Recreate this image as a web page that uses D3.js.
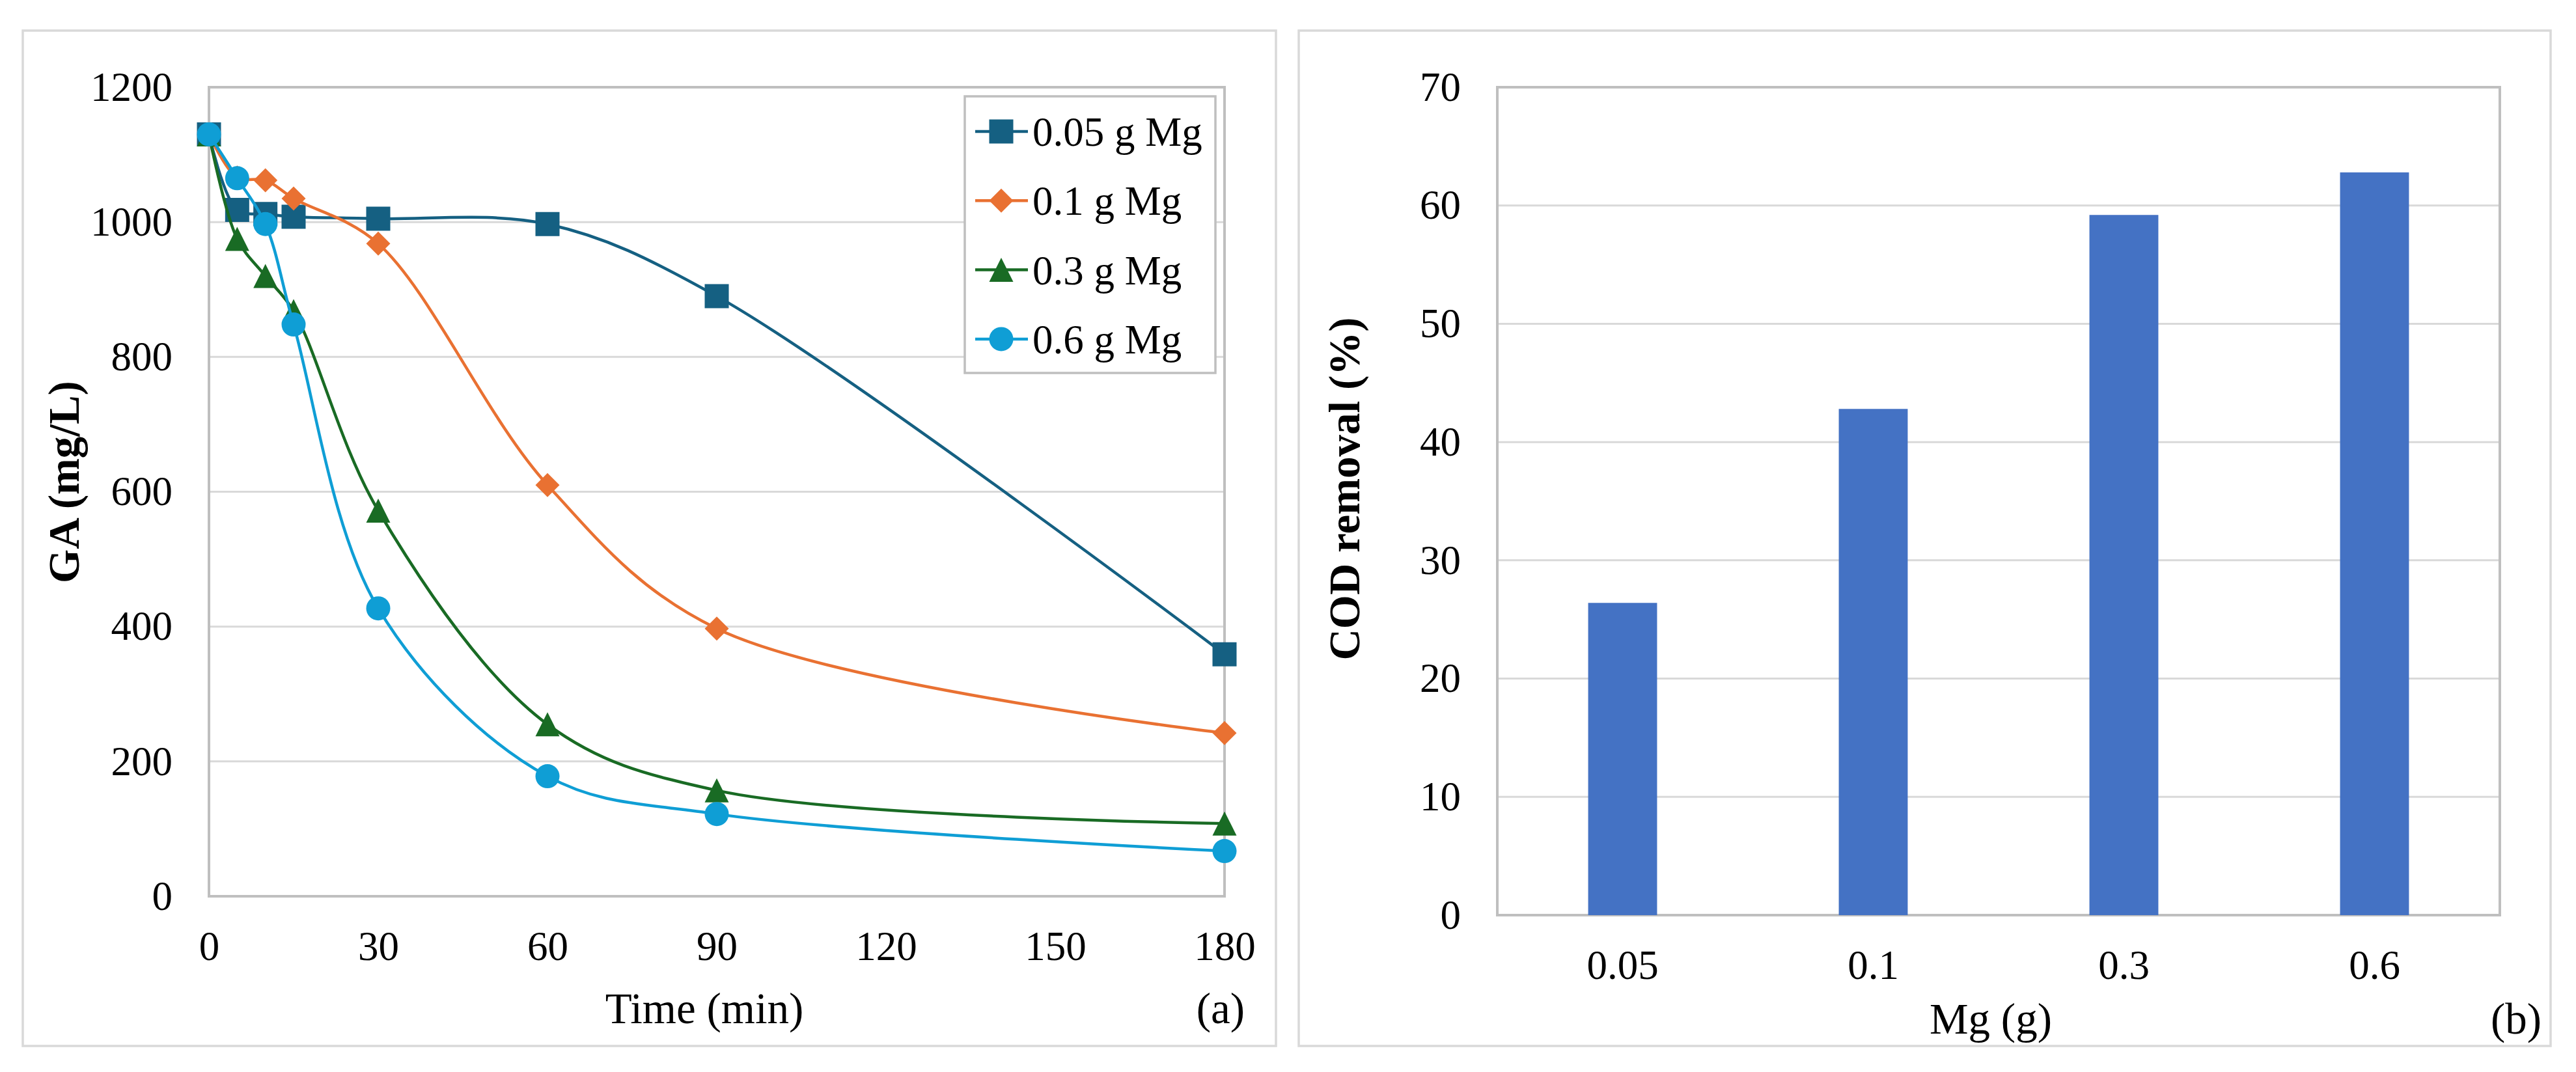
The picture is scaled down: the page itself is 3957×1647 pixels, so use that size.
<!DOCTYPE html>
<html>
<head>
<meta charset="utf-8">
<script src="https://cdn.jsdelivr.net/npm/d3@7"></script>
<style>
  body { margin: 0; background: #fff; }
  text { font-family: "Liberation Serif", "Times New Roman", serif; fill: #000; }
</style>
</head>
<body>
<script>
// ---- data ----
const times = [0, 5, 10, 15, 30, 60, 90, 180];
const ga005 = [1130, 1018, 1012, 1008, 1005, 997, 890, 359];
const ga01  = [1130, 1066, 1062, 1035, 968, 610, 397, 242];
const ga03  = [1130, 975, 920, 868, 572, 255, 157, 108];
const ga06  = [1130, 1065, 997, 848, 427, 178, 122, 67];
const seriesNames = ["0.05 g Mg", "0.1 g Mg", "0.3 g Mg", "0.6 g Mg"];
const xTicksA = [0, 30, 60, 90, 120, 150, 180];
const yTicksA = [0, 200, 400, 600, 800, 1000, 1200];

const mgDose = ["0.05", "0.1", "0.3", "0.6"];
const codRemoval = [26.4, 42.8, 59.2, 62.8];
const yTicksB = [0, 10, 20, 30, 40, 50, 60, 70];

const W = 3957, H = 1647;
const svg = d3.select("body").append("svg").attr("width", W).attr("height", H);

const colors = ["#156082", "#e97132", "#196b24", "#0f9ed5"];
const gridColor = "#d9d9d9", borderColor = "#bfbfbf";
const tickFont = 63, titleFont = 67;
const serif = '"Liberation Serif", "Times New Roman", serif';

// marker shapes, size = full width in px
const mSquare = { draw(c, s) { const h = s / 2; c.rect(-h, -h, s, s); } };
const mDiamond = { draw(c, s) { const h = s / 2; c.moveTo(0, -h); c.lineTo(h, 0); c.lineTo(0, h); c.lineTo(-h, 0); c.closePath(); } };
const mTriangle = { draw(c, s) { const h = s / 2; c.moveTo(0, -h); c.lineTo(h, h); c.lineTo(-h, h); c.closePath(); } };
const mCircle = { draw(c, s) { const r = s / 2; c.moveTo(r, 0); c.arc(0, 0, r, 0, 2 * Math.PI); } };
const markers = [mSquare, mDiamond, mTriangle, mCircle];
const markerSize = 37;

function frame(x, y, w, h) {
  svg.append("rect").attr("x", x).attr("y", y).attr("width", w).attr("height", h)
    .attr("fill", "#fff").attr("stroke", gridColor).attr("stroke-width", 3.5);
}

function styleAxis(g) {
  g.attr("font-family", null).attr("font-size", null);
  g.select(".domain").remove();
  g.selectAll(".tick line").remove();
  g.selectAll("text")
    .style("font-family", serif)
    .style("font-size", tickFont + "px")
    .attr("fill", "#000");
}

// ================= panel (a) =================
frame(35, 47, 1925, 1560);
const pA = { left: 321, right: 1881, top: 134, bottom: 1377 };
const xA = d3.scaleLinear().domain([0, 180]).range([pA.left, pA.right]);
const yA = d3.scaleLinear().domain([0, 1200]).range([pA.bottom, pA.top]);

svg.append("g").selectAll("line").data(yTicksA.filter(d => d > 0)).join("line")
  .attr("x1", pA.left).attr("x2", pA.right)
  .attr("y1", d => yA(d)).attr("y2", d => yA(d))
  .attr("stroke", gridColor).attr("stroke-width", 3);

svg.append("rect").attr("x", pA.left).attr("y", pA.top)
  .attr("width", pA.right - pA.left).attr("height", pA.bottom - pA.top)
  .attr("fill", "none").attr("stroke", borderColor).attr("stroke-width", 4);

svg.append("g").attr("transform", `translate(${pA.left},0)`)
  .call(d3.axisLeft(yA).tickValues(yTicksA).tickFormat(d3.format("d")).tickSize(0).tickPadding(56))
  .call(styleAxis);
svg.append("g").attr("transform", `translate(0,${pA.bottom})`)
  .call(d3.axisBottom(xA).tickValues(xTicksA).tickFormat(d3.format("d")).tickSize(0).tickPadding(53))
  .call(styleAxis);

const allSeries = [ga005, ga01, ga03, ga06];
const line = d3.line()
  .x(d => xA(d.t)).y(d => yA(d.v))
  .curve(d3.curveCatmullRom.alpha(0.5));

allSeries.forEach((vals, i) => {
  const pts = times.map((t, k) => ({ t, v: vals[k] }));
  const g = svg.append("g");
  g.append("path").datum(pts).attr("d", line)
    .attr("fill", "none").attr("stroke", colors[i]).attr("stroke-width", 4.5);
  g.selectAll("path.mk").data(pts).join("path").attr("class", "mk")
    .attr("transform", d => `translate(${xA(d.t)},${yA(d.v)})`)
    .attr("d", d3.symbol(markers[i], markerSize))
    .attr("fill", colors[i]);
});

// legend
const lg = svg.append("g");
lg.append("rect").attr("x", 1482).attr("y", 148).attr("width", 385).attr("height", 425)
  .attr("fill", "#fff").attr("stroke", borderColor).attr("stroke-width", 3.5);
seriesNames.forEach((name, i) => {
  const cy = 202 + i * 106.3;
  lg.append("line").attr("x1", 1498).attr("x2", 1579).attr("y1", cy).attr("y2", cy)
    .attr("stroke", colors[i]).attr("stroke-width", 4.5);
  lg.append("path").attr("transform", `translate(1538,${cy})`)
    .attr("d", d3.symbol(markers[i], markerSize)).attr("fill", colors[i]);
  lg.append("text").attr("x", 1586).attr("y", cy).attr("dy", "0.35em")
    .style("font-family", serif).style("font-size", tickFont + "px").text(name);
});

function title(x, y, txt, bold, rotate) {
  const t = svg.append("text")
    .attr("transform", `translate(${x},${y})` + (rotate ? " rotate(-90)" : ""))
    .attr("text-anchor", "middle")
    .style("font-family", serif).style("font-size", titleFont + "px")
    .text(txt);
  if (bold) t.style("font-weight", "bold");
}

title(121, (pA.top + pA.bottom) / 2 - 15, "GA (mg/L)", true, true);
title(1082, 1572, "Time (min)", false, false);
title(1875, 1572, "(a)", false, false);

// ================= panel (b) =================
frame(1995, 47, 1923, 1560);
const pB = { left: 2300, right: 3840, top: 134, bottom: 1406 };
const xB = d3.scaleBand().domain(mgDose).range([pB.left, pB.right]).paddingInner(0.725).paddingOuter(0.3625);
const yB = d3.scaleLinear().domain([0, 70]).range([pB.bottom, pB.top]);

svg.append("g").selectAll("line").data(yTicksB.filter(d => d > 0)).join("line")
  .attr("x1", pB.left).attr("x2", pB.right)
  .attr("y1", d => yB(d)).attr("y2", d => yB(d))
  .attr("stroke", gridColor).attr("stroke-width", 3);

svg.append("rect").attr("x", pB.left).attr("y", pB.top)
  .attr("width", pB.right - pB.left).attr("height", pB.bottom - pB.top)
  .attr("fill", "none").attr("stroke", borderColor).attr("stroke-width", 4);

svg.append("g").selectAll("rect").data(mgDose).join("rect")
  .attr("x", d => xB(d)).attr("width", xB.bandwidth())
  .attr("y", (d, i) => yB(codRemoval[i]))
  .attr("height", (d, i) => yB(0) - yB(codRemoval[i]))
  .attr("fill", "#4472c4");

svg.append("g").attr("transform", `translate(${pB.left},0)`)
  .call(d3.axisLeft(yB).tickValues(yTicksB).tickSize(0).tickPadding(56))
  .call(styleAxis);
svg.append("g").attr("transform", `translate(0,${pB.bottom})`)
  .call(d3.axisBottom(xB).tickSize(0).tickPadding(53))
  .call(styleAxis);

title(2088, (pB.top + pB.bottom) / 2 - 19, "COD removal (%)", true, true);
title(3058, 1588, "Mg (g)", false, false);
title(3865, 1588, "(b)", false, false);
</script>
</body>
</html>
